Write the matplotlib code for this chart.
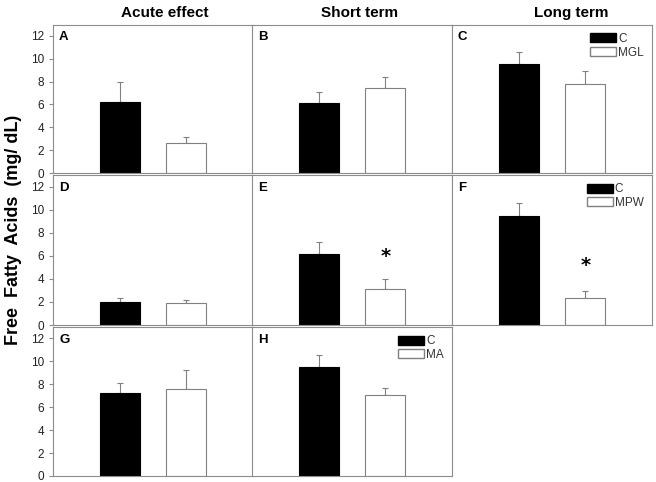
import matplotlib
matplotlib.use("Agg")
import matplotlib.pyplot as plt
from matplotlib.patches import Patch

plt.rcParams["font.family"] = ["Liberation Sans", "DejaVu Sans"]

panels = ["A", "B", "C", "D", "E", "F", "G", "H"]
control_means = [6.25, 6.1, 9.53, 2.02, 6.18, 9.48, 7.2, 9.54]
control_err = [1.75, 0.95, 1.05, 0.35, 1.02, 1.07, 0.9, 1.04]
treat_means = [2.65, 7.48, 7.8, 1.88, 3.12, 2.34, 7.6, 7.06]
treat_err = [0.5, 0.92, 1.1, 0.26, 0.88, 0.64, 1.63, 0.61]
significant = [False, False, False, False, True, True, False, False]
star_y = [None, None, None, None, 5.9, 5.2, None, None]
legend_labels = {"C": ["C", "MGL"], "F": ["C", "MPW"], "H": ["C", "MA"]}
col_titles = ["Acute effect", "Short term", "Long term"]
yticks = [0, 2, 4, 6, 8, 10, 12]

W, H = 656, 482
fig = plt.figure(figsize=(W / 100, H / 100), dpi=100)

col_left = [53, 252, 452]
col_w = 200
row_top = [24.5, 175, 327]
row_bot = [173, 325, 476]
frame_col = "#8c8c8c"

for i, p in enumerate(panels):
    r, c = divmod(i, 3)
    ax = fig.add_axes([col_left[c] / W, 1 - row_bot[r] / H, col_w / W,
                       (row_bot[r] - row_top[r]) / H])
    ax.bar([1], [control_means[i]], width=0.6, color="black", edgecolor="black",
           linewidth=0.8, zorder=2)
    ax.bar([2], [treat_means[i]], width=0.6, color="white", edgecolor="#808080",
           linewidth=0.8, zorder=2)
    ax.errorbar([1, 2], [control_means[i], treat_means[i]],
                yerr=[[0, 0], [control_err[i], treat_err[i]]], fmt="none",
                ecolor="#808080", elinewidth=0.8, capsize=2, capthick=0.8, zorder=1)
    ax.set_xlim(0, 3)
    ax.set_ylim(0, 13)
    ax.set_xticks([])
    for s in ax.spines.values():
        s.set_color(frame_col)
        s.set_linewidth(0.8)
    if c == 0:
        ax.set_yticks(yticks)
        ax.tick_params(axis="y", labelsize=8.5, length=3, width=0.8,
                       direction="out", color=frame_col, labelcolor="#222222")
    else:
        ax.set_yticks([])
    ax.text(0.03, 0.955, p, transform=ax.transAxes, fontsize=9.5, fontweight="bold",
            va="top", ha="left")
    if significant[i]:
        ax.text(2, star_y[i], "*", fontsize=14, fontweight="bold", ha="center",
                va="center", family="DejaVu Sans")
    if p in legend_labels:
        labs = legend_labels[p]
        handles = [Patch(facecolor="black", edgecolor="black"),
                   Patch(facecolor="white", edgecolor="#808080")]
        leg = ax.legend(handles, labs, loc="upper right", fontsize=8.5, frameon=False,
                        handlelength=2.2, handleheight=0.8, handletextpad=0.2,
                        labelspacing=0.15, borderaxespad=0.3)
        for t in leg.get_texts():
            t.set_color("#333333")

title_x = [165, 360, 571]
for t, x in zip(col_titles, title_x):
    fig.text(x / W, 1 - 13 / H, t, fontsize=11, fontweight="bold", ha="center",
             va="center")

fig.text(14 / W, 1 - 230 / H, "Free  Fatty  Acids  (mg/ dL)", fontsize=13,
         fontweight="bold", rotation=90, ha="center", va="center")

fig.savefig("out.png", dpi=100)
